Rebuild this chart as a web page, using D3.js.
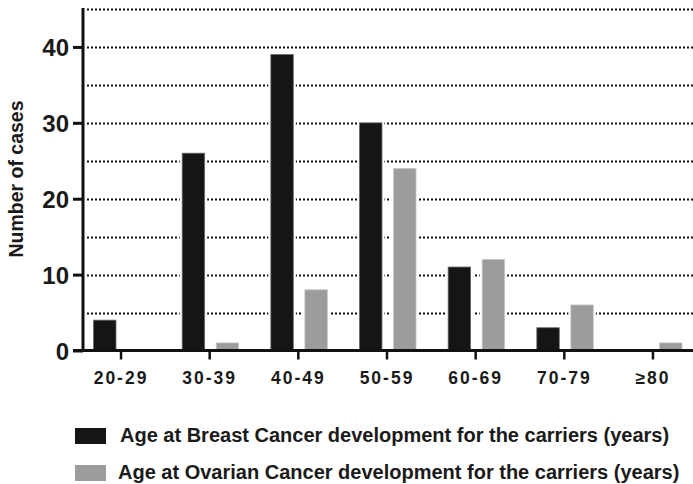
<!DOCTYPE html>
<html>
<head>
<meta charset="utf-8">
<script src="https://cdn.jsdelivr.net/npm/d3@7"></script>
<style>
  html, body { margin: 0; padding: 0; background: #fff; }
  svg { display: block; font-family: "Liberation Sans", Arial, Helvetica, sans-serif; }
</style>
</head>
<body>
<svg id="chart" width="693" height="484"></svg>
<script>
const categories = ["20-29", "30-39", "40-49", "50-59", "60-69", "70-79", "\u226580"];
const breastValues = [4, 26, 39, 30, 11, 3, 0];
const ovarianValues = [0, 1, 8, 24, 12, 6, 1];
const seriesNames = [
  "Age at Breast Cancer development for the carriers (years)",
  "Age at Ovarian Cancer development for the carriers (years)"
];
const seriesColors = ["#151515", "#9c9c9c"];
const seriesEdges = ["#6a6a6a", "#c8c8c8"];
const yTickLabels = [0, 10, 20, 30, 40];
const gridValues = [5, 10, 15, 20, 25, 30, 35, 40, 45];

const svg = d3.select("#chart");

const x = d3.scaleBand().domain(categories).range([76.7, 697.3]).padding(0);
const inner = d3.scaleBand().domain([0, 1]).range([-27.5, 29]).paddingInner(0.34).paddingOuter(0);
const y = d3.scaleLinear().domain([0, 45]).range([350.5, 9]);

// grid
svg.append("g").selectAll("line").data(gridValues).join("line")
  .attr("x1", 87).attr("x2", 693)
  .attr("y1", d => Math.round(y(d)) + 0.5).attr("y2", d => Math.round(y(d)) + 0.5)
  .attr("stroke", "#111").attr("stroke-width", 2)
  .attr("stroke-dasharray", "2,2");

// bars
const data = [];
categories.forEach((c, i) => {
  [breastValues[i], ovarianValues[i]].forEach((v, s) => {
    if (v > 0) data.push({ c, s, v });
  });
});
const bars = svg.append("g");
bars.selectAll("rect.halo").data(data).join("rect")
  .attr("class", "halo")
  .attr("x", d => x(d.c) + x.bandwidth() / 2 + inner(d.s) - 2.5)
  .attr("width", inner.bandwidth() + 5)
  .attr("y", d => y(d.v) - 2.5)
  .attr("height", d => y(0) - y(d.v) + 2.5)
  .attr("fill", "#fff");
bars.selectAll("rect.bar").data(data).join("rect")
  .attr("class", "bar")
  .attr("x", d => x(d.c) + x.bandwidth() / 2 + inner(d.s))
  .attr("width", inner.bandwidth())
  .attr("y", d => y(d.v))
  .attr("height", d => y(0) - y(d.v))
  .attr("fill", d => seriesColors[d.s])
  .attr("stroke", d => seriesEdges[d.s])
  .attr("stroke-width", 0.8);

// y axis
const yAxis = d3.axisLeft(y).tickValues(yTickLabels).tickSize(10).tickPadding(4).tickFormat(d3.format("d"));
const gy = svg.append("g").attr("transform", "translate(83,0)").call(yAxis);
gy.select(".domain").attr("stroke", "#111").attr("stroke-width", 3).attr("d", `M0,${y(45) - 1}V${y(0) + 1.5}`);
gy.selectAll(".tick line").attr("stroke", "#111").attr("stroke-width", 3);
gy.selectAll(".tick text").attr("fill", "#1a1a1a").attr("font-size", 24).attr("font-weight", "bold")
  .attr("font-family", "Liberation Sans, Arial, sans-serif").attr("dy", "0.36em");

// x axis
const xAxis = d3.axisBottom(x).tickSize(9).tickPadding(12);
const gx = svg.append("g").attr("transform", `translate(0,${y(0)})`).call(xAxis);
gx.select(".domain").attr("stroke", "#111").attr("stroke-width", 3).attr("d", "M73,0H693");
gx.selectAll(".tick line").attr("stroke", "#111").attr("stroke-width", 2.5);
gx.selectAll(".tick text").attr("fill", "#1a1a1a").attr("font-size", 17.5).attr("font-weight", "bold")
  .attr("letter-spacing", "2px")
  .attr("font-family", "Liberation Sans, Arial, sans-serif");

// y title
svg.append("text")
  .attr("transform", `translate(23,${179}) rotate(-90)`)
  .attr("text-anchor", "middle")
  .attr("font-size", 19.5)
  .attr("font-weight", "bold")
  .attr("fill", "#1a1a1a")
  .text("Number of cases");

// legend
const legendY = [428, 465];
const legendTextX = [120, 118];
const lg = svg.append("g");
seriesNames.forEach((name, i) => {
  lg.append("rect").attr("x", 75).attr("y", legendY[i]).attr("width", 31).attr("height", 16)
    .attr("fill", seriesColors[i]);
  lg.append("text").attr("x", legendTextX[i]).attr("y", legendY[i] + 14)
    .attr("font-size", 20).attr("font-weight", "bold").attr("fill", "#1a1a1a")
    .text(name);
});
</script>
</body>
</html>
